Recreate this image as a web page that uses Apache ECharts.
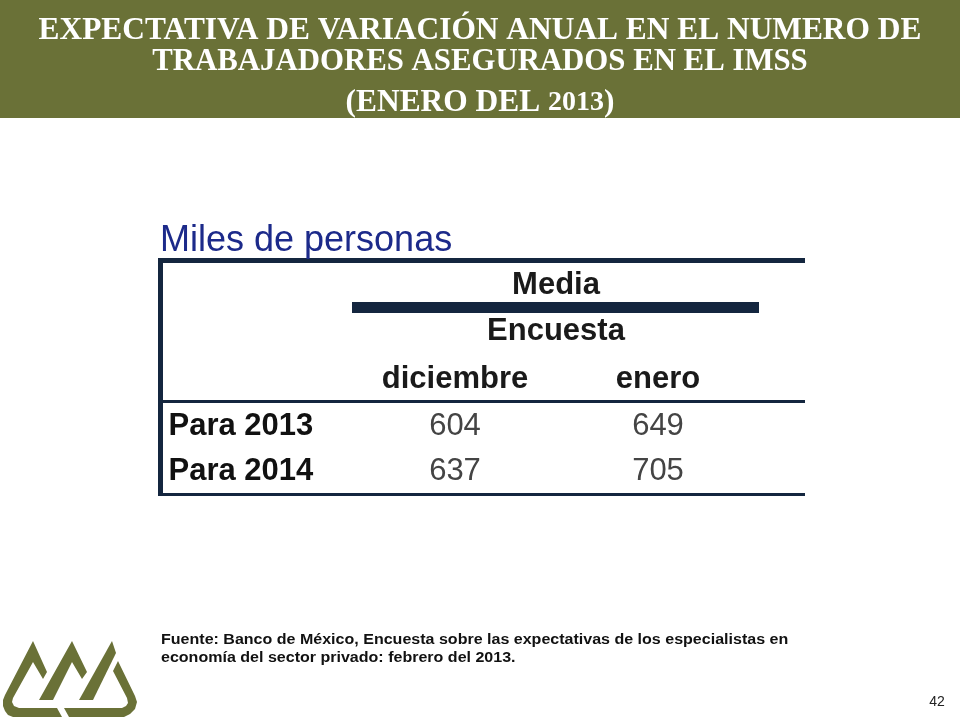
<!DOCTYPE html>
<html>
<head>
<meta charset="utf-8">
<title>Expectativa IMSS</title>
<script src="https://cdn.jsdelivr.net/npm/echarts@6/dist/echarts.min.js"></script>
<style>
html, body { margin: 0; padding: 0; background: #fff; }
#chart { width: 960px; height: 720px; }
</style>
</head>
<body>
<div id="chart"></div>
<script>
var titleLines = ['EXPECTATIVA DE VARIACIÓN ANUAL EN EL NUMERO DE', 'TRABAJADORES ASEGURADOS EN EL IMSS', '(ENERO DEL {y|2013})'];
var unitLabel = 'Miles de personas';
var groupLabels = ['Media', 'Encuesta'];
var surveys = ['diciembre', 'enero'];
var rows = ['Para 2013', 'Para 2014'];
var diciembre = [604, 637];
var enero = [649, 705];
var sourceLines = [
    'Fuente: Banco de México, Encuesta sobre las expectativas de los especialistas en',
    'economía del sector privado: febrero del 2013.'
];
var pageNumber = '42';

var green = '#6a7137';
var navy = '#14263f';
var sans = '"Liberation Sans", Arial, sans-serif';
var serif = '"Liberation Serif", serif';

function tableCells() {
    var cells = [];
    for (var i = 0; i < rows.length; i++) {
        cells.push([0, i, diciembre[i]]);
        cells.push([1, i, enero[i]]);
    }
    return cells;
}

function titleItems() {
    var tops = [15, 47, 87];
    var sizes = [31.4, 30.8, 31.4];
    var items = [];
    for (var i = 0; i < titleLines.length; i++) {
        items.push({
            text: titleLines[i],
            left: 'center',
            top: tops[i],
            padding: 0,
            textStyle: {
                color: '#fff',
                fontFamily: serif,
                fontWeight: 'bold',
                fontSize: sizes[i],
                rich: {
                    y: { color: '#fff', fontFamily: serif, fontWeight: 'bold', fontSize: 28 }
                }
            }
        });
    }
    return items;
}

function rule(x, y, w, h) {
    return { type: 'rect', shape: { x: x, y: y, width: w, height: h }, style: { fill: navy }, z: 3 };
}

function label(text, x, y, size, weight, color, align, stretch) {
    return {
        type: 'text', x: x, y: y, z: 4, scaleX: stretch || 1,
        style: { text: text, fill: color, font: weight + ' ' + size + 'px ' + sans, align: align, verticalAlign: 'middle' }
    };
}

// logo outline in slide pixels
var logoShapes = [
    [[33, 641], [5, 695], [3, 700], [3, 706], [5, 711], [8, 715], [13, 717], [62, 717], [57, 708], [19, 708], [14, 706], [12, 702], [13, 698], [33, 662], [43, 679], [47, 672]],
    [[72, 641], [39, 700], [53, 700], [72, 662], [82, 679], [87, 672]],
    [[112, 641], [79, 700], [93, 700], [116, 653]],
    [[118, 661], [113, 671], [127, 698], [128, 703], [126, 706], [122, 708], [64, 708], [69, 717], [124, 717], [130, 714], [135, 709], [137, 702], [135, 696]]
];

function graphics() {
    var els = [
        { type: 'rect', shape: { x: 0, y: 0, width: 960, height: 118 }, style: { fill: green }, z: 0 },
        label(unitLabel, 160, 241, 36, 'normal', '#1c2a8a', 'left'),
        rule(158, 258, 647, 5),
        rule(158, 258, 5, 238),
        rule(352, 302, 407, 11),
        rule(158, 400, 647, 3),
        rule(158, 493, 647, 3),
        label(groupLabels[0], 556, 285, 31, 'bold', '#1a1a1a', 'center'),
        label(groupLabels[1], 556, 331, 31, 'bold', '#1a1a1a', 'center'),
        label(sourceLines[0], 161, 640, 14, 'bold', '#111', 'left', 1.145),
        label(sourceLines[1], 161, 658, 14, 'bold', '#111', 'left', 1.145),
        label(pageNumber, 937, 702, 14, 'normal', '#222', 'center')
    ];
    for (var i = 0; i < logoShapes.length; i++) {
        els.push({ type: 'polygon', shape: { points: logoShapes[i] }, style: { fill: green }, z: 2 });
    }
    return els;
}

function madeChart() {
    var myChart = echarts.init(document.getElementById('chart'));

    var option = {
        animation: false,
        backgroundColor: '#fff',
        title: titleItems(),
        graphic: graphics(),
        grid: { left: 353.5, top: 403.5, width: 406, height: 90 },
        xAxis: {
            type: 'category',
            position: 'top',
            data: surveys,
            axisLine: { show: false },
            axisTick: { show: false },
            axisLabel: { color: '#1a1a1a', fontFamily: sans, fontWeight: 'bold', fontSize: 31, margin: 9 }
        },
        yAxis: {
            type: 'category',
            inverse: true,
            data: rows,
            axisLine: { show: false },
            axisTick: { show: false },
            splitLine: { show: false },
            axisLabel: { color: '#111', fontFamily: sans, fontWeight: 'bold', fontSize: 31, align: 'left', margin: 185 }
        },
        series: [{
            type: 'scatter',
            symbolSize: 1,
            itemStyle: { color: 'transparent', opacity: 1 },
            data: tableCells(),
            label: {
                show: true,
                position: 'inside',
                color: '#444',
                opacity: 1,
                fontFamily: sans,
                fontSize: 31,
                formatter: function (p) { return p.value[2]; }
            }
        }]
    };

    myChart.setOption(option);
}

madeChart();
</script>
</body>
</html>
